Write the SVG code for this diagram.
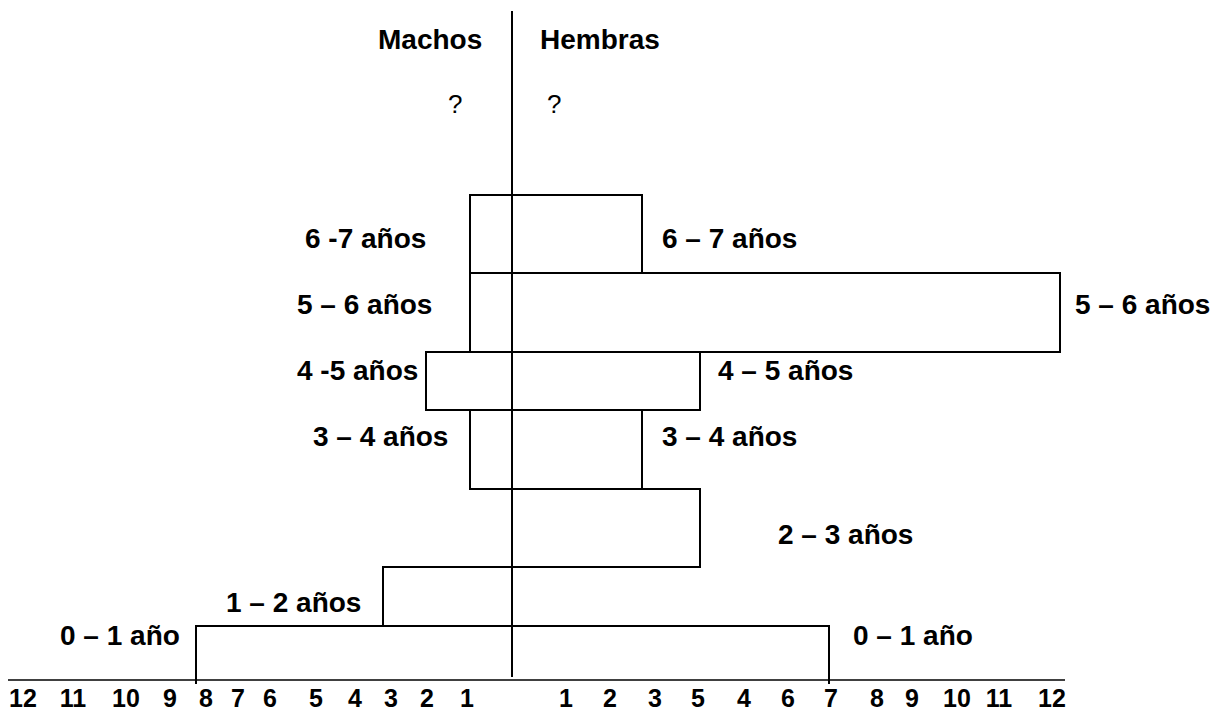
<svg xmlns="http://www.w3.org/2000/svg" width="1229" height="713" viewBox="0 0 1229 713">
<style>
.lbl{font-family:"Liberation Sans",Arial,sans-serif;font-weight:bold;font-size:28px;fill:#000}
.ax{font-family:"Liberation Sans",Arial,sans-serif;font-weight:bold;font-size:25px;fill:#000;text-anchor:middle}
.q{font-family:"Liberation Sans",Arial,sans-serif;font-size:26px;fill:#000}
.bar{fill:none;stroke:#000;stroke-width:2}
.line{fill:none;stroke:#000;stroke-width:2}
</style>
<rect width="1229" height="713" fill="#fff"/>
<g id="headers">
<text class="lbl" x="378" y="49">Machos</text>
<text class="lbl" x="540" y="49">Hembras</text>
<text class="q" x="448" y="113">?</text>
<text class="q" x="547" y="113">?</text>
</g>
<g id="bars">
<g id="age-6-7">
<rect class="bar" x="470" y="195" width="172" height="78"/>
<text class="lbl" x="305" y="248">6 -7 años</text>
<text class="lbl" x="662" y="248">6 – 7 años</text>
</g>
<g id="age-5-6">
<rect class="bar" x="470" y="273" width="590" height="79"/>
<text class="lbl" x="297" y="314">5 – 6 años</text>
<text class="lbl" x="1075" y="314">5 – 6 años</text>
</g>
<g id="age-4-5">
<rect class="bar" x="426" y="352" width="274" height="58"/>
<text class="lbl" x="297" y="380">4 -5 años</text>
<text class="lbl" x="718" y="380">4 – 5 años</text>
</g>
<g id="age-3-4">
<rect class="bar" x="470" y="410" width="172" height="79"/>
<text class="lbl" x="313" y="446">3 – 4 años</text>
<text class="lbl" x="662" y="446">3 – 4 años</text>
</g>
<g id="age-2-3">
<rect class="bar" x="512" y="489" width="188" height="78"/>
<text class="lbl" x="778" y="544">2 – 3 años</text>
</g>
<g id="age-1-2">
<rect class="bar" x="383" y="567" width="129" height="59"/>
<text class="lbl" x="226" y="612">1 – 2 años</text>
</g>
<g id="age-0-1">
<path class="bar" d="M196,684 V626 H829 V684"/>
<text class="lbl" x="60" y="645">0 – 1 año</text>
<text class="lbl" x="853" y="645">0 – 1 año</text>
</g>
</g>
<g id="connectors">
<line class="line" x1="512" y1="11" x2="512" y2="677"/>
<line x1="8" y1="680" x2="1065" y2="680" stroke="#000" stroke-width="1.6"/>
</g>
<g id="axis">
<text class="ax" x="23" y="707">12</text>
<text class="ax" x="73" y="707">11</text>
<text class="ax" x="126" y="707">10</text>
<text class="ax" x="170" y="707">9</text>
<text class="ax" x="206" y="707">8</text>
<text class="ax" x="238" y="707">7</text>
<text class="ax" x="270" y="707">6</text>
<text class="ax" x="316" y="707">5</text>
<text class="ax" x="355" y="707">4</text>
<text class="ax" x="391" y="707">3</text>
<text class="ax" x="427" y="707">2</text>
<text class="ax" x="467" y="707">1</text>
<text class="ax" x="566" y="707">1</text>
<text class="ax" x="610" y="707">2</text>
<text class="ax" x="655" y="707">3</text>
<text class="ax" x="698" y="707">5</text>
<text class="ax" x="744" y="707">4</text>
<text class="ax" x="788" y="707">6</text>
<text class="ax" x="831" y="707">7</text>
<text class="ax" x="877" y="707">8</text>
<text class="ax" x="912" y="707">9</text>
<text class="ax" x="957" y="707">10</text>
<text class="ax" x="999" y="707">11</text>
<text class="ax" x="1052" y="707">12</text>
</g>
</svg>
